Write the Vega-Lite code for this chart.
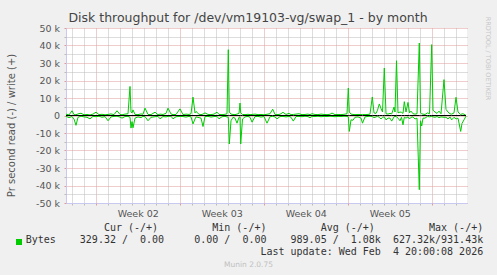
{
 "$schema": "https://vega.github.io/schema/vega-lite/v6.json",
 "width": 401, "height": 175,
 "autosize": {"type": "none"},
 "padding": {"left": 66, "top": 28, "right": 30, "bottom": 72},
 "background": "#f0f0f0",
 "title": {"text": "Disk throughput for /dev/vm19103-vg/swap_1 - by month", "font": "DejaVu Sans", "fontSize": 12.5, "fontWeight": "normal", "color": "#444444", "anchor": "middle", "frame": "group", "dx": -18.5, "dy": 22, "offset": 4, "baseline": "alphabetic"},
 "config": {"view": {"stroke": null, "fill": "white"}, "axis": {"labelFont": "DejaVu Sans", "titleFont": "DejaVu Sans", "titleFontWeight": "normal"}},
 "data": {"values": [
  {"h":36.6,"write":800,"read":-500},{"h":42.6,"write":300,"read":-1200},{"h":48.6,"write":2700,"read":-600},{"h":52.6,"write":500,"read":-2000},
  {"h":56.6,"write":400,"read":-5600},{"h":60.6,"write":900,"read":-1000},{"h":66.6,"write":1300,"read":-400},{"h":72.6,"write":400,"read":-800},
  {"h":78.6,"write":600,"read":-1000},{"h":84.6,"write":300,"read":-1900},{"h":90.6,"write":800,"read":-500},{"h":96.6,"write":1900,"read":-700},
  {"h":102.6,"write":500,"read":-400},{"h":108.6,"write":700,"read":-1000},{"h":114.6,"write":400,"read":-600},{"h":120.6,"write":600,"read":-3000},
  {"h":126.6,"write":900,"read":-800},{"h":132.6,"write":500,"read":-500},{"h":138.6,"write":2700,"read":-400},{"h":144.6,"write":600,"read":-900},
  {"h":148.6,"write":400,"read":-1500},{"h":154.6,"write":800,"read":-600},{"h":160.6,"write":1000,"read":-500},{"h":164.6,"write":16600,"read":-1000},
  {"h":166.6,"write":2000,"read":-7200},{"h":168.6,"write":1500,"read":-3500},{"h":170.6,"write":3200,"read":-7000},{"h":174.6,"write":600,"read":-1500},
  {"h":180.6,"write":500,"read":-800},{"h":186.6,"write":900,"read":-1200},{"h":190.6,"write":700,"read":-500},{"h":194.6,"write":4200,"read":-600},
  {"h":200.6,"write":600,"read":-3000},{"h":206.6,"write":500,"read":-1000},{"h":214.6,"write":1900,"read":-700},{"h":220.6,"write":400,"read":-500},
  {"h":224.6,"write":800,"read":-1900},{"h":230.6,"write":600,"read":-600},{"h":236.6,"write":1200,"read":-800},{"h":240.6,"write":4200,"read":-500},
  {"h":246.6,"write":900,"read":-400},{"h":250.6,"write":500,"read":-1900},{"h":256.6,"write":600,"read":-700},{"h":264.6,"write":3800,"read":-500},
  {"h":270.6,"write":500,"read":-600},{"h":276.6,"write":800,"read":-900},{"h":282.6,"write":600,"read":-500},{"h":286.6,"write":1000,"read":-800},
  {"h":290.6,"write":10500,"read":-4800},{"h":294.6,"write":1500,"read":-2000},{"h":296.6,"write":2300,"read":-800},{"h":302.6,"write":700,"read":-1200},
  {"h":306.6,"write":500,"read":-1500},{"h":310.6,"write":800,"read":-6300},{"h":314.6,"write":1500,"read":-600},{"h":320.6,"write":600,"read":-500},
  {"h":326.6,"write":500,"read":-900},{"h":332.6,"write":800,"read":-600},{"h":338.6,"write":1900,"read":-500},{"h":342.6,"write":600,"read":-1900},
  {"h":348.6,"write":500,"read":-700},{"h":354.6,"write":700,"read":-500},{"h":358.6,"write":1000,"read":-800},{"h":361.2,"write":37600,"read":-1000},
  {"h":363.2,"write":2000,"read":-16300},{"h":366.6,"write":800,"read":-3000},{"h":370.6,"write":600,"read":-1000},{"h":374.6,"write":500,"read":-1500},
  {"h":378.6,"write":800,"read":-4400},{"h":382.6,"write":1200,"read":-1000},{"h":384.6,"write":7100,"read":-800},{"h":386.0,"write":1500,"read":-16300},
  {"h":389.6,"write":600,"read":-2000},{"h":394.6,"write":500,"read":-800},{"h":400.6,"write":700,"read":-500},{"h":404.6,"write":500,"read":-1000},
  {"h":408.6,"write":600,"read":-3800},{"h":414.6,"write":800,"read":-600},{"h":420.6,"write":500,"read":-500},{"h":426.6,"write":600,"read":-900},
  {"h":432.6,"write":400,"read":-600},{"h":438.6,"write":700,"read":-4400},{"h":444.6,"write":1000,"read":-700},{"h":450.0,"write":3600,"read":-500},
  {"h":454.6,"write":600,"read":-800},{"h":458.6,"write":500,"read":-1900},{"h":464.6,"write":700,"read":-600},{"h":470.6,"write":1800,"read":-500},
  {"h":476.6,"write":600,"read":-800},{"h":482.6,"write":1200,"read":-500},{"h":486.6,"write":500,"read":-1000},{"h":491.2,"write":600,"read":-3200},
  {"h":496.6,"write":800,"read":-600},{"h":502.6,"write":1000,"read":-500},{"h":508.6,"write":500,"read":-700},{"h":514.6,"write":600,"read":-400},
  {"h":520.6,"write":800,"read":-600},{"h":524.6,"write":500,"read":-1300},{"h":528.6,"write":1000,"read":-500},{"h":534.6,"write":600,"read":-600},
  {"h":540.6,"write":500,"read":-400},{"h":546.6,"write":800,"read":-700},{"h":552.6,"write":600,"read":-500},{"h":558.6,"write":500,"read":-600},
  {"h":564.6,"write":700,"read":-400},{"h":568.6,"write":1400,"read":-500},{"h":574.6,"write":500,"read":-700},{"h":580.6,"write":600,"read":-500},
  {"h":586.6,"write":500,"read":-600},{"h":592.6,"write":700,"read":-400},{"h":598.6,"write":1000,"read":-500},{"h":601.2,"write":15700,"read":-800},
  {"h":603.2,"write":2000,"read":-9100},{"h":606.6,"write":800,"read":-2500},{"h":610.6,"write":600,"read":-2700},{"h":614.6,"write":500,"read":-1000},
  {"h":620.6,"write":600,"read":-800},{"h":626.6,"write":500,"read":-1500},{"h":629.6,"write":600,"read":-4400},{"h":634.6,"write":500,"read":-800},
  {"h":640.6,"write":600,"read":-500},{"h":644.6,"write":800,"read":-400},{"h":649.2,"write":10600,"read":-600},{"h":652.6,"write":1500,"read":-1200},
  {"h":656.6,"write":1200,"read":-800},{"h":659.6,"write":3000,"read":-500},{"h":663.2,"write":6600,"read":-1000},{"h":666.6,"write":4000,"read":-2000},
  {"h":669.6,"write":2000,"read":-1000},{"h":673.2,"write":27100,"read":-800},{"h":676.6,"write":1000,"read":-2500},{"h":680.6,"write":800,"read":-1500},
  {"h":684.6,"write":1200,"read":-1500},{"h":688.0,"write":900,"read":-3200},{"h":692.6,"write":4800,"read":-800},{"h":694.6,"write":2000,"read":-500},
  {"h":697.6,"write":31300,"read":-700},{"h":700.6,"write":1500,"read":-1500},{"h":704.6,"write":2000,"read":-3000},{"h":707.6,"write":1800,"read":-1000},
  {"h":710.6,"write":1200,"read":-5300},{"h":713.2,"write":7900,"read":-1000},{"h":716.6,"write":2000,"read":-1500},{"h":720.6,"write":7500,"read":-800},
  {"h":723.6,"write":1500,"read":-2000},{"h":726.6,"write":2500,"read":-1000},{"h":730.6,"write":1000,"read":-800},{"h":734.6,"write":800,"read":-2000},
  {"h":738.6,"write":1000,"read":-1500},{"h":743.2,"write":41400,"read":-42400},{"h":745.6,"write":1500,"read":-3000},{"h":748.0,"write":1000,"read":-6000},
  {"h":750.6,"write":800,"read":-1500},{"h":754.6,"write":600,"read":-1500},{"h":759.6,"write":1500,"read":-500},{"h":763.6,"write":1000,"read":-800},
  {"h":768.0,"write":40500,"read":-500},{"h":770.6,"write":3000,"read":-800},{"h":774.6,"write":2000,"read":-1000},{"h":778.6,"write":1200,"read":-600},
  {"h":782.6,"write":2500,"read":-1200},{"h":786.6,"write":1000,"read":-800},{"h":792.6,"write":20500,"read":-1000},{"h":796.6,"write":3500,"read":-1000},
  {"h":800.6,"write":2000,"read":-2000},{"h":804.6,"write":1000,"read":-800},{"h":808.0,"write":800,"read":-2500},{"h":812.6,"write":1500,"read":-1000},
  {"h":816.6,"write":10400,"read":-2000},{"h":820.6,"write":2000,"read":-1500},{"h":826.0,"write":500,"read":-9100},{"h":828.6,"write":1000,"read":-4500},
  {"h":832.6,"write":800,"read":-2500},{"h":836.6,"write":0,"read":-330}
 ]},
 "resolve": {"axis": {"x": "independent", "y": "independent"}},
 "layer": [
  {
   "mark": {"type": "line", "strokeWidth": 1, "clip": true},
   "encoding": {
    "x": {"field": "h", "type": "quantitative", "scale": {"domain": [36.6, 838.6], "nice": false, "zero": false},
     "axis": {"orient": "bottom", "values": [48,72,120,144,168,192,216,240,288,312,336,360,384,408,456,480,504,528,552,576,624,648,672,696,720,744,792,816],
      "labels": false, "grid": true, "gridColor": "#bbbbbb", "gridDash": [1,1], "ticks": true, "tickColor": "#bbbbbb", "tickSize": 2,
      "domain": true, "domainColor": "#c8c8f0",
      "title": ["Cur\u00a0(-/+)\u00a0\u00a0\u00a0\u00a0\u00a0\u00a0\u00a0\u00a0\u00a0Min\u00a0(-/+)\u00a0\u00a0\u00a0\u00a0\u00a0\u00a0\u00a0\u00a0\u00a0Avg\u00a0(-/+)\u00a0\u00a0\u00a0\u00a0\u00a0\u00a0\u00a0\u00a0\u00a0Max\u00a0(-/+)\u00a0",
                "Bytes\u00a0\u00a0\u00a0\u00a0329.32\u00a0/\u00a0\u00a00.00\u00a0\u00a0\u00a0\u00a0\u00a00.00\u00a0/\u00a0\u00a00.00\u00a0\u00a0\u00a0\u00a0989.05\u00a0/\u00a0\u00a01.08k\u00a0\u00a0627.32k/931.43k",
                "Last\u00a0update:\u00a0Wed\u00a0Feb\u00a0\u00a04\u00a020:00:08\u00a02026"],
      "titleFont": "DejaVu Sans Mono", "titleFontSize": 10, "titleColor": "#333333", "titleAlign": "right", "titleBaseline": "alphabetic",
      "titleX": 416.7, "titleY": 27.7, "titleLineHeight": 12, "titleAngle": 0}},
    "y": {"field": "write", "type": "quantitative", "scale": {"domain": [-50000, 50000], "nice": false},
     "axis": {"orient": "left", "values": [-50000,-40000,-30000,-20000,-10000,0,10000,20000,30000,40000,50000],
      "labelExpr": "datum.value == 0 ? '0' : (datum.value / 1000) + ' k'", "labelFontSize": 9.5, "labelColor": "#555555", "labelPadding": 4.5,
      "grid": true, "gridColor": "#e09a9a", "gridDash": [1,1], "ticks": true, "tickColor": "#e09a9a", "tickSize": 2,
      "domain": true, "domainColor": "#c8c8f0",
      "title": "Pr second read (-) / write (+)", "titleFontSize": 10, "titleColor": "#555555", "titleAngle": -90,
      "titleX": -55, "titleY": 97, "titleAlign": "center", "titleBaseline": "middle"}},
    "color": {"datum": "Bytes", "scale": {"range": ["#00cc00"]},
     "legend": {"title": null, "orient": "none", "legendX": -52, "legendY": 209, "symbolType": "square", "symbolSize": 36,
      "symbolFillColor": "#00cc00", "symbolStrokeWidth": 0, "labelExpr": "''", "padding": 0}}
   }
  },
  {
   "mark": {"type": "line", "strokeWidth": 1, "clip": true},
   "encoding": {
    "x": {"field": "h", "type": "quantitative",
     "axis": {"orient": "bottom", "values": [96,264,432,600,768], "labels": false, "grid": true, "gridColor": "#e09a9a", "gridDash": [1,1],
      "ticks": true, "tickColor": "#e09a9a", "tickSize": 2, "domain": false,
      "title": "Munin 2.0.75", "titleFont": "DejaVu Sans", "titleFontSize": 7.5, "titleColor": "#c0c0c0", "titleAlign": "center",
      "titleBaseline": "alphabetic", "titleX": 182, "titleY": 63.2, "titleAngle": 0}},
    "y": {"field": "read", "type": "quantitative",
     "axis": {"orient": "left", "values": [-45000,-35000,-25000,-15000,-5000,5000,15000,25000,35000,45000], "labels": false,
      "grid": true, "gridColor": "#bbbbbb", "gridDash": [1,1], "ticks": true, "tickColor": "#bbbbbb", "tickSize": 2, "domain": false, "title": null}},
    "color": {"datum": "Bytes"}
   }
  },
  {
   "mark": {"type": "line", "color": "#000000", "strokeWidth": 1},
   "encoding": {
    "x": {"field": "h", "type": "quantitative",
     "axis": {"orient": "bottom", "values": [180,348,516,684], "labelExpr": "'Week 0' + (round((datum.value - 180) / 168) + 2)",
      "labelFontSize": 9.5, "labelColor": "#555555", "labelPadding": 5.4, "labelFlush": false, "labelOverlap": false,
      "ticks": false, "grid": false, "domain": false, "title": null}},
    "y": {"datum": 0, "type": "quantitative",
     "axis": {"orient": "right", "labels": false, "ticks": false, "grid": false, "domain": false,
      "title": "RRDTOOL / TOBI OETIKER", "titleFont": "DejaVu Sans", "titleFontSize": 6.5, "titleColor": "#c8c8c8", "titleAngle": 90,
      "titleX": 20, "titleY": 30, "titleAlign": "center", "titleBaseline": "middle"}}
   }
  }
 ]
}
